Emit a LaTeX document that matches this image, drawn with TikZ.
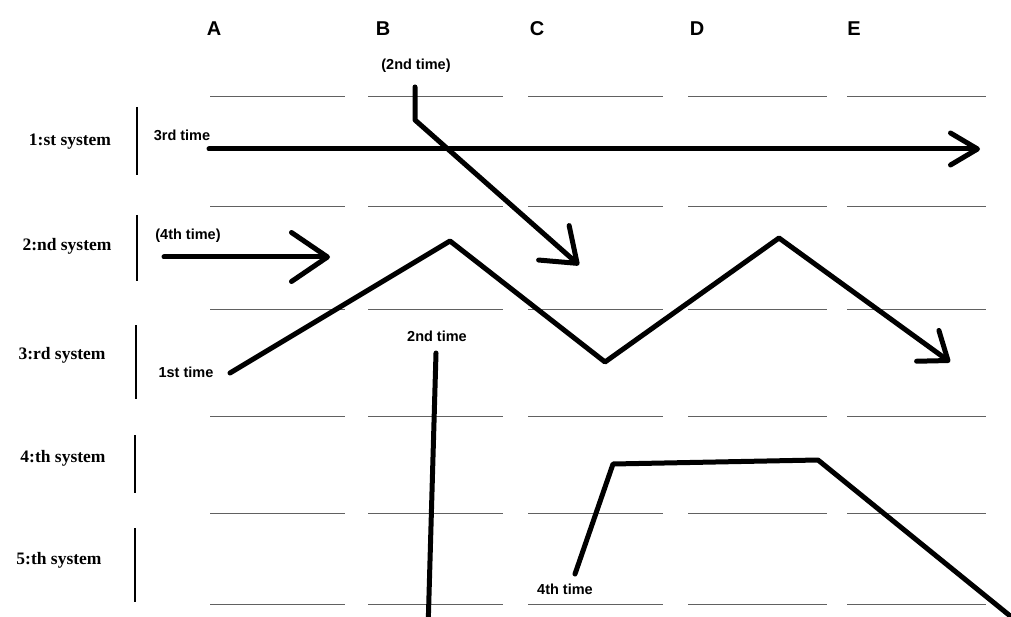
\documentclass[tikz,border=0pt]{standalone}
\usepackage{fontspec}
\setmainfont{Liberation Serif}
\setsansfont{Liberation Sans}
\usetikzlibrary{positioning,arrows.meta}
\tikzset{
  colhead/.style={font=\sffamily\bfseries\fontsize{20}{24}\selectfont, inner sep=0pt},
  syslabel/.style={font=\bfseries\fontsize{17.5}{21}\selectfont, inner sep=0pt},
  timelabel/.style={font=\sffamily\bfseries\fontsize{14.5}{17}\selectfont, inner sep=0pt},
  staff/.style={draw=black!62, line width=0.8pt},
  sysbar/.style={draw=black, line width=1.3pt},
  route/.style={line width=5pt, line cap=round, line join=round},
  routetip/.style={route, -{Straight Barb[round, #1]}},
}

\begin{document}
\begin{tikzpicture}[x=1pt, y=-1pt]
  \clip (0,0) rectangle (1011,617);
  % column heads
  \node[colhead] (colA) at (214,29) {A};
  \node[colhead] (colB) at (383,29) {B};
  \node[colhead] (colC) at (537,29) {C};
  \node[colhead] (colD) at (697,29) {D};
  \node[colhead] (colE) at (854,29) {E};
  % staff lines
  \foreach \y in {96,206,309,416,513,604}
    \foreach \xa/\xb in {210/345,368/503,528/663,688/827,847/986}
      \draw[staff] (\xa,\y) -- (\xb,\y);
  % systems
  \node[syslabel] (sys1) at (70,142) {1:st system};
  \node[syslabel] (sys2) at (67,246) {2:nd system};
  \node[syslabel] (sys3) at (62,355) {3:rd system};
  \node[syslabel] (sys4) at (63,458) {4:th system};
  \node[syslabel] (sys5) at (59,560) {5:th system};
  \draw[sysbar] (137,107) -- (137,175);
  \draw[sysbar] (137,215) -- (137,281);
  \draw[sysbar] (136,325) -- (136,399);
  \draw[sysbar] (135,435) -- (135,493);
  \draw[sysbar] (135,528) -- (135,602);

  % 1st time: zigzag through systems 2 and 3
  \node[timelabel] (first) at (186,372) {1st time};
  \coordinate (f0) at (230,373);
  \coordinate (f1) at (450,241);
  \coordinate (f2) at (605,362);
  \coordinate (f3) at (779,238);
  \coordinate (f4) at (950,362);
  \draw[routetip={length=25pt, width=38pt}] (f0) -- (f1) -- (f2) -- (f3) -- (f4);

  % 2nd time, column B
  \node[timelabel] (secondB) at (437,336) {2nd time};
  \coordinate (s0) at (436,353);
  \coordinate (s1) at (428,630);
  \draw[route] (s0) -- (s1);

  % (2nd time) from the top
  \node[timelabel] (secondtop) at (416,66) {(2nd time)};
  \coordinate (p0) at (415,87);
  \coordinate (p1) at (415,120);
  \coordinate (p2) at (579,265);
  \draw[routetip={length=31pt, width=46pt}] (p0) -- (p1) -- (p2);

  % 3rd time
  \node[timelabel] (third) at (182,135) {3rd time};
  \coordinate (r0) at (209,149);
  \coordinate (r1) at (980,149);
  \draw[routetip={length=27pt, width=32pt}] (r0) -- (r1);

  % (4th time)
  \node[timelabel] (fourthtop) at (188,236) {(4th time)};
  \coordinate (q0) at (164,257);
  \coordinate (q1) at (330,257);
  \draw[routetip={length=36pt, width=49pt}] (q0) -- (q1);

  % 4th time
  \node[timelabel] (fourth) at (565,589) {4th time};
  \coordinate (u0) at (575,574);
  \coordinate (u1) at (613,464);
  \coordinate (u2) at (818,460);
  \coordinate (u3) at (1025,628);
  \draw[route] (u0) -- (u1) -- (u2) -- (u3);
\end{tikzpicture}
\end{document}
